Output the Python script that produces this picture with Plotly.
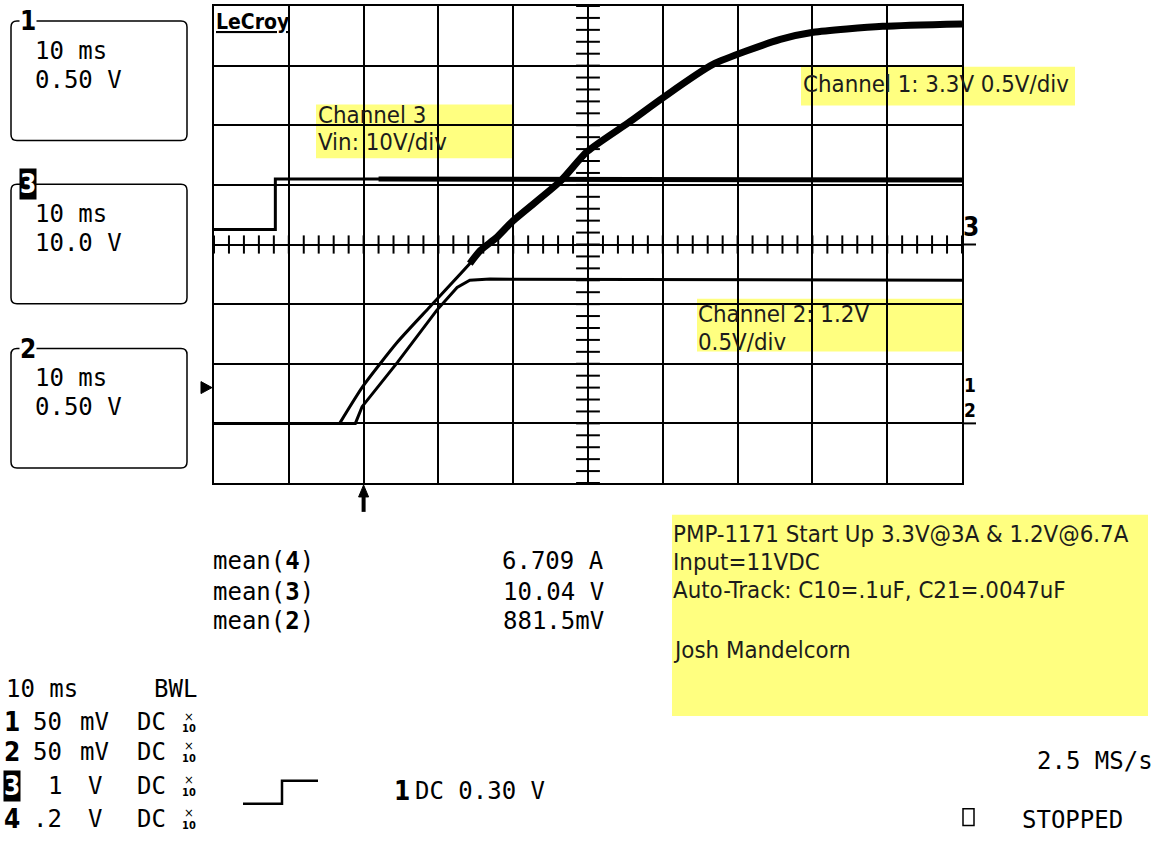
import plotly.graph_objects as go

# ---------------- data read from the scope capture ----------------
# time in ms (10 ms/div, 10 divisions), voltages in volts
time_ms_ch1 = [0, 16.8, 19.9, 24.5, 28.9, 34.2, 35.6, 37.8, 40.0, 46.3, 49.9, 55.6, 60.0, 66.7, 75.7, 80.1, 89.4, 100]
ch1_volts = [0, 0, 0.31, 0.68, 0.98, 1.34, 1.45, 1.56, 1.70, 2.03, 2.28, 2.53, 2.73, 3.01, 3.22, 3.28, 3.33, 3.35]
time_ms_ch2 = [0, 18.9, 19.8, 24.5, 29.8, 32.5, 34.2, 36.9, 100]
ch2_volts = [0, 0, 0.14, 0.51, 0.95, 1.14, 1.20, 1.21, 1.20]
time_ms_ch3 = [0, 8.2, 8.2, 22.0, 100]
ch3_volts = [2.5, 2.5, 11.0, 11.0, 10.8]

ch1_ramp_from = 1       # index where ch1 leaves ground
ch1_noise_from = 5      # index where ch1 trace becomes a thick noisy band
ch3_noise_from = 3      # index where ch3 trace becomes noisy

trigger_time_ms = 20
trigger_level_v = 0.30

box_labels = ["1", "3", "2"]
box_timebase = ["10 ms", "10 ms", "10 ms"]
box_volts = ["0.50 V", "10.0 V", "0.50 V"]

meas_names = ["4", "3", "2"]
meas_values = ["6.709 A", "10.04 V", "881.5mV"]

chan_nums = ["1", "2", "3", "4"]
chan_scale = ["50", "50", "1", ".2"]
chan_unit = ["mV", "mV", "V", "V"]

info_lines = ["PMP-1171 Start Up 3.3V@3A & 1.2V@6.7A", "Input=11VDC",
              "Auto-Track: C10=.1uF, C21=.0047uF", "Josh Mandelcorn"]

# ---------------- geometry helpers (pixel -> paper) ----------------
W, H = 1157, 842
L, R, T, B = 214, 962, 4, 483
XR = [0, 100]
YR = [-0.5, 3.5]
Y2R = [-40, 40]


def PX(x):
    return (x - L) / (R - L)


def PY(y):
    return (B - y) / (B - T)


MONO = "DejaVu Sans Mono"
SANS = "DejaVu Sans Condensed, DejaVu Sans"
BOLDF = "DejaVu Sans Condensed, DejaVu Sans"
YEL = "#ffff80"
TXT = "#1c1c1c"
NOTE = 23.8

ann = []
shapes = []


def text(t, x, y, size=24, xanchor="left", yanchor="middle", family=MONO,
         color="black", bg=None):
    d = dict(text=t, x=PX(x), y=PY(y), xref="paper", yref="paper",
             xanchor=xanchor, yanchor=yanchor, showarrow=False, borderpad=0,
             font=dict(family=family, size=size, color=color))
    if bg:
        d["bgcolor"] = bg
    ann.append(d)


def path_px(pts, close=False, fill=None, w=2, layer="above"):
    s = "M " + " L ".join(f"{PX(a):.5f},{PY(b):.5f}" for a, b in pts)
    if close:
        s += " Z"
    d = dict(type="path", xref="paper", yref="paper", path=s, layer=layer,
             line=dict(color="black", width=w))
    if fill:
        d["fillcolor"] = fill
    shapes.append(d)


def rect_px(x0, y0, x1, y1, fill, layer="below"):
    shapes.append(dict(type="rect", xref="paper", yref="paper", x0=PX(x0), y0=PY(y0),
                       x1=PX(x1), y1=PY(y1), fillcolor=fill, line=dict(width=0), layer=layer))


def rrect_px(x0, y0, x1, y1, r=6):
    def p(a, b):
        return f"{PX(a):.5f},{PY(b):.5f}"
    s = (f"M {p(x0 + r, y0)} L {p(x1 - r, y0)} Q {p(x1, y0)} {p(x1, y0 + r)} "
         f"L {p(x1, y1 - r)} Q {p(x1, y1)} {p(x1 - r, y1)} L {p(x0 + r, y1)} "
         f"Q {p(x0, y1)} {p(x0, y1 - r)} L {p(x0, y0 + r)} Q {p(x0, y0)} {p(x0 + r, y0)} Z")
    shapes.append(dict(type="path", xref="paper", yref="paper", path=s,
                       line=dict(color="black", width=1.5)))


# ---------------- figure & traces ----------------
fig = go.Figure()

# centre graticule minor ticks
hx = [XR[0] + i * 2 for i in range(51)]
fig.add_trace(go.Scatter(x=hx, y=[(YR[0] + YR[1]) / 2] * len(hx), mode="markers",
                         marker=dict(symbol="line-ns", size=13, line=dict(color="black", width=2)),
                         hoverinfo="skip", showlegend=False, cliponaxis=True))
vy = [YR[0] + k * 0.1 for k in range(41)]
fig.add_trace(go.Scatter(x=[(XR[0] + XR[1]) / 2] * len(vy), y=vy, mode="markers",
                         marker=dict(symbol="line-ew", size=17, line=dict(color="black", width=2)),
                         hoverinfo="skip", showlegend=False, cliponaxis=True))

# channel 3 (Vin)
fig.add_trace(go.Scatter(x=time_ms_ch3, y=ch3_volts, yaxis="y2", mode="lines",
                         line=dict(color="black", width=3), showlegend=False))
fig.add_trace(go.Scatter(x=time_ms_ch3[ch3_noise_from:], y=ch3_volts[ch3_noise_from:], yaxis="y2",
                         mode="lines", line=dict(color="black", width=5), showlegend=False))
# channel 2
fig.add_trace(go.Scatter(x=time_ms_ch2, y=ch2_volts, mode="lines",
                         line=dict(color="black", width=3), showlegend=False))
# channel 1
fig.add_trace(go.Scatter(x=time_ms_ch1[:ch1_ramp_from + 1], y=ch1_volts[:ch1_ramp_from + 1], mode="lines",
                         line=dict(color="black", width=3), showlegend=False))
fig.add_trace(go.Scatter(x=time_ms_ch1[ch1_ramp_from:], y=ch1_volts[ch1_ramp_from:], mode="lines",
                         line=dict(color="black", width=3, shape="spline", smoothing=0.6),
                         showlegend=False))
fig.add_trace(go.Scatter(x=time_ms_ch1[ch1_noise_from:], y=ch1_volts[ch1_noise_from:], mode="lines",
                         line=dict(color="black", width=7, shape="spline", smoothing=0.6),
                         showlegend=False))

# ---------------- yellow notes ----------------
rect_px(316, 103, 513, 157, YEL)
text("Channel 3", 317, 113, NOTE, family=SANS, color=TXT)
text("Vin: 10V/div", 317, 141, NOTE, family=SANS, color=TXT)
rect_px(801, 65, 1075, 104, YEL)
text("Channel 1: 3.3V 0.5V/div", 802, 82, NOTE, family=SANS, color=TXT)
rect_px(697, 298, 962, 351, YEL)
text("Channel 2: 1.2V", 697, 313, NOTE, family=SANS, color=TXT)
text("0.5V/div", 697, 341, NOTE, family=SANS, color=TXT)
rect_px(672, 515, 1148, 717, YEL)
for line, yy in zip(info_lines, [534, 562, 590, 651]):
    text(line, 672, yy, NOTE, family=SANS, color=TXT)

# ---------------- LeCroy logo ----------------
text("<b><u>LeCroy</u></b>", 215, 20, 21, family=BOLDF)

# ---------------- left channel boxes ----------------
for i, (tops, lab) in enumerate(zip([19, 183, 348], box_labels)):
    bot = tops + 120
    rrect_px(11, tops, 187, bot)
    inv = lab == "3"
    text(f"<b>{lab}</b>", 19, tops, 26, family=BOLDF,
         color="white" if inv else "black", bg="black" if inv else "white")
    text(box_timebase[i], 34, tops + 30, 24)
    text(box_volts[i], 34, tops + 59, 24)

# ---------------- right-side channel markers ----------------
y3 = B - (0 - Y2R[0]) / (Y2R[1] - Y2R[0]) * (B - T)
y12 = B - (0 - YR[0]) / (YR[1] - YR[0]) * (B - T)
path_px([(962, y3), (976, y3)], w=2)
path_px([(962, y12), (976, y12)], w=2)
text("<b>3</b>", 962, y3 - 2, 26, yanchor="bottom", family=BOLDF)
text("<b>1<br>2</b>", 963, y12 - 1, 19, yanchor="bottom", family=BOLDF)

# trigger level marker (left) and trigger time arrow (bottom)
ty = B - (trigger_level_v - YR[0]) / (YR[1] - YR[0]) * (B - T)
path_px([(201, ty - 6), (212, ty), (201, ty + 6)], close=True, fill="black", w=1)
tx = L + (trigger_time_ms - XR[0]) / (XR[1] - XR[0]) * (R - L)
path_px([(tx, 512), (tx, 494)], w=4)
path_px([(tx - 5, 497), (tx, 485), (tx + 5, 497)], close=True, fill="black", w=1)

# ---------------- measurements ----------------
for name, val, yy in zip(meas_names, meas_values, [561, 592, 622]):
    text(f"mean(<b>{name}</b>)", 212, yy, 24)
    text(val, 605, yy, 24, xanchor="right")

# ---------------- bottom-left channel settings ----------------
text("10 ms", 5, 690, 24)
text("BWL", 198, 690, 24, xanchor="right")
for num, sc, un, yy in zip(chan_nums, chan_scale, chan_unit, [723, 753, 787, 820]):
    inv = num == "3"
    text(f"<b>{num}</b>", 3, yy, 26, family=BOLDF,
         color="white" if inv else "black", bg="black" if inv else None)
    text(sc, 63, yy, 24, xanchor="right")
    text(un, 79 if un == "mV" else 87, yy, 24)
    text("DC", 136, yy, 24)
    text("×", 189, yy - 6, 13, xanchor="center", family=SANS)
    text("<b>10</b>", 189, yy + 7, 11, xanchor="center", family=SANS)

# trigger step symbol and trigger setting
path_px([(243, 805), (282, 805), (282, 782), (318, 782)], w=2.5)
text("<b>1</b>", 393, 792, 26, family=BOLDF)
text("DC 0.30 V", 414, 792, 24)

# sample rate / status
text("2.5 MS/s", 1154, 762, 24, xanchor="right")
path_px([(963, 810), (974, 810), (974, 827), (963, 827)], close=True, w=1.5)
text("STOPPED", 1021, 821, 24)

# ---------------- layout ----------------
axis_common = dict(showgrid=True, gridcolor="black", gridwidth=2, showticklabels=False,
                   ticks="", zeroline=False, showline=True, mirror=True, linecolor="black",
                   linewidth=2, fixedrange=True)
fig.update_layout(
    width=W, height=H, autosize=False,
    margin=dict(l=L, r=W - R, t=T, b=H - B, pad=0),
    paper_bgcolor="white", plot_bgcolor="white",
    showlegend=False,
    xaxis=dict(range=XR, dtick=10, tick0=0, **axis_common),
    yaxis=dict(range=YR, dtick=0.5, tick0=0, **axis_common),
    yaxis2=dict(range=Y2R, overlaying="y", visible=False, fixedrange=True),
    annotations=ann, shapes=shapes,
)

fig.write_html("out.html", config={"displayModeBar": False},
               post_script="document.body.style.margin='0px';document.body.style.overflow='hidden';")
